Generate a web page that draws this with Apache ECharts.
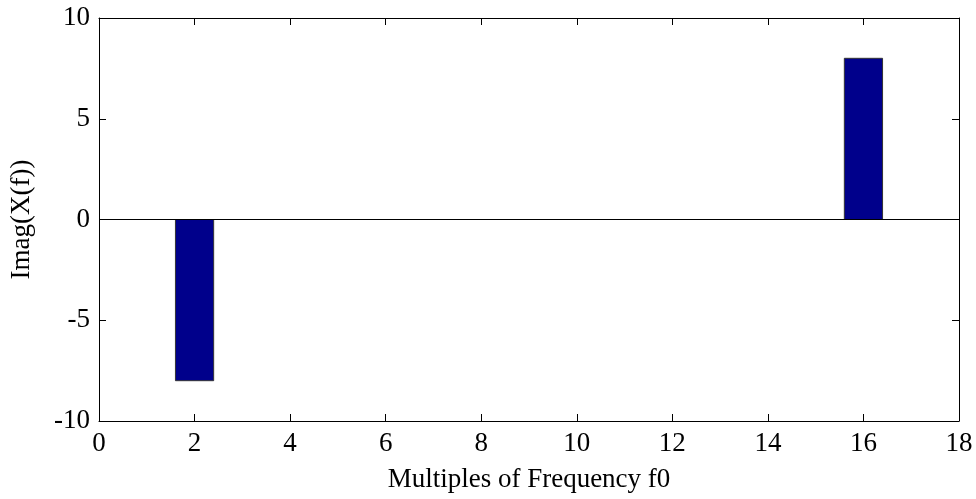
<!DOCTYPE html>
<html>
<head>
<meta charset="utf-8">
<script src="https://cdn.jsdelivr.net/npm/echarts@6/dist/echarts.min.js"></script>
<style>html,body{margin:0;padding:0;background:#fff}#c{width:976px;height:499px}</style>
</head>
<body>
<div id="c"></div>
<script>
const frequencies = [2, 16];
const imagValues = [-8, 8];
const barWidthUnits = 0.8;
const xTicks = [0, 2, 4, 6, 8, 10, 12, 14, 16, 18];
const yTicks = [-10, -5, 0, 5, 10];

const FONT = '"Liberation Serif","Times New Roman",serif';
const chart = echarts.init(document.getElementById('c'));
const data = frequencies.map((f, i) => [f, imagValues[i]]);

const axisCommon = {
  axisLine: { show: true, onZero: false, lineStyle: { color: '#000', width: 1 } },
  axisTick: { show: true, inside: true, length: 7, lineStyle: { color: '#000', width: 1 } },
  splitLine: { show: false }
};

chart.setOption({
  animation: false,
  backgroundColor: '#fff',
  grid: { left: 98, top: 18, right: 17, bottom: 78, containLabel: false },
  xAxis: [
    Object.assign({}, axisCommon, {
      type: 'value', min: xTicks[0], max: xTicks[xTicks.length - 1], interval: 2, position: 'bottom',
      name: 'Multiples of Frequency f0', nameLocation: 'middle', nameGap: 45,
      nameTextStyle: { fontFamily: FONT, fontSize: 27, color: '#000' },
      axisLabel: { fontFamily: FONT, fontSize: 27, color: '#000', margin: 9 }
    }),
    Object.assign({}, axisCommon, {
      type: 'value', min: xTicks[0], max: xTicks[xTicks.length - 1], interval: 2, position: 'top',
      axisLabel: { show: false }
    })
  ],
  yAxis: [
    Object.assign({}, axisCommon, {
      type: 'value', min: yTicks[0], max: yTicks[yTicks.length - 1], interval: 5, position: 'left',
      name: 'Imag(X(f))', nameLocation: 'middle', nameGap: 64, nameRotate: 90,
      nameTextStyle: { fontFamily: FONT, fontSize: 27, color: '#000' },
      axisLabel: { fontFamily: FONT, fontSize: 27, color: '#000', margin: 9 }
    }),
    Object.assign({}, axisCommon, {
      type: 'value', min: yTicks[0], max: yTicks[yTicks.length - 1], interval: 5, position: 'right',
      axisLabel: { show: false }
    })
  ],
  series: [{
    type: 'custom',
    xAxisIndex: 0, yAxisIndex: 0,
    data: data,
    renderItem: function (params, api) {
      const x = api.value(0), y = api.value(1);
      const p0 = api.coord([x, 0]);
      const p1 = api.coord([x, y]);
      const w = api.size([barWidthUnits, 0])[0];
      const top = Math.min(p0[1], p1[1]);
      const h = Math.abs(p1[1] - p0[1]);
      return {
        type: 'rect',
        shape: { x: p0[0] - w / 2, y: top, width: w, height: h },
        style: { fill: '#00008B', stroke: '#333', lineWidth: 1 }
      };
    },
    markLine: {
      silent: true, symbol: 'none', label: { show: false },
      lineStyle: { color: '#000', width: 1, type: 'solid' },
      data: [{ yAxis: 0 }]
    },
    z: 2
  }]
});
</script>
</body>
</html>
